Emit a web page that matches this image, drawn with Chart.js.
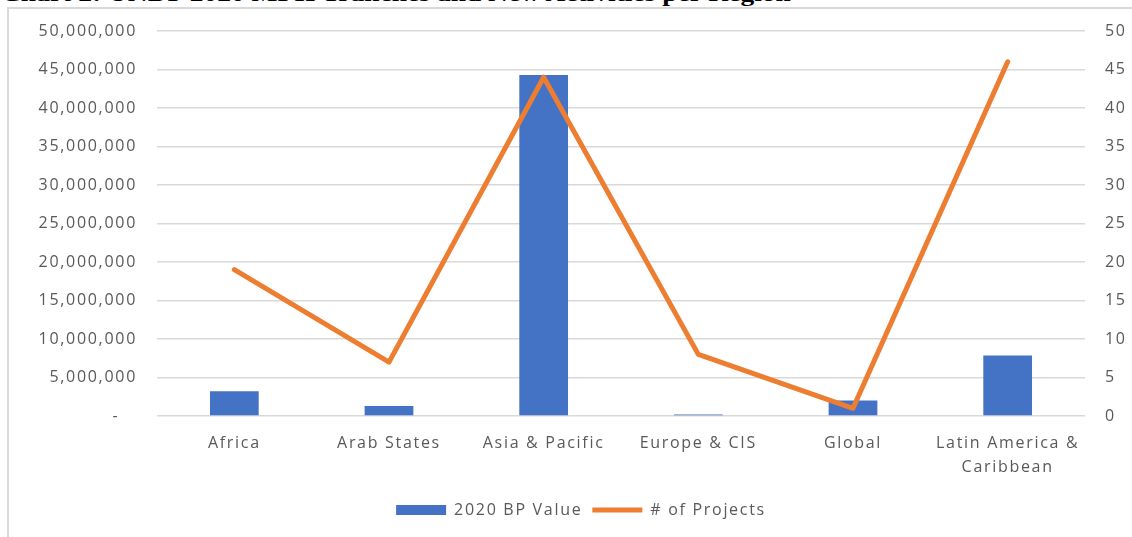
<!DOCTYPE html>
<html>
<head>
<meta charset="utf-8">
<script src="https://cdn.jsdelivr.net/npm/chart.js@4/dist/chart.umd.min.js"></script>
<style>
    body { margin: 0; background: #fff; overflow: hidden; }
    #wrap { position: relative; width: 1132px; height: 537px; overflow: hidden; }
    #title {
        position: absolute; left: 1px; top: -19px; white-space: nowrap;
        font: bold 22px "Liberation Serif", serif; color: #000;
        transform: scaleX(1.25); transform-origin: left top;
    }
    #frame {
        position: absolute; left: 7px; top: 7px; width: 2000px; height: 2000px;
        border: 2px solid #d9d9d9; box-sizing: border-box;
    }
    #chart { position: absolute; left: 0; top: 0; }
</style>
</head>
<body>
<div id="wrap">
    <div id="title">Chart 2: UNDP 2020 MPII Tranches and New Activities per Region</div>
    <div id="frame"></div>
    <canvas id="chart" width="1132" height="537"></canvas>
</div>
<script>
const regions = ['Africa', 'Arab States', 'Asia & Pacific', 'Europe & CIS', 'Global', ['Latin America &', 'Caribbean']];
const bpValues = [3200000, 1300000, 44300000, 200000, 2000000, 7850000];
const projectCounts = [19, 7, 44, 8, 1, 46];
const leftTicks = { min: 0, max: 50000000, step: 5000000 };
const rightTicks = { min: 0, max: 50, step: 5 };

const textColor = '#595959';
const gridColor = '#d9d9d9';
const baseFont = { family: '"Open Sans", sans-serif', size: 16 };

// the source text is set wide, so spread the letters a little
// (canvas resizing resets the context, so set it again before layout and draw)
const spacing = '1.7px';
const wideText = {
    id: 'wideText',
    beforeLayout(chart) { chart.ctx.letterSpacing = spacing; },
    beforeDraw(chart) { chart.ctx.letterSpacing = spacing; }
};

new Chart(document.getElementById('chart').getContext('2d'), {
    type: 'bar',
    plugins: [wideText],
    data: {
        labels: regions,
        datasets: [{
            label: '2020 BP Value',
            data: bpValues,
            backgroundColor: '#4472c4',
            borderWidth: 0,
            pointStyle: 'rect',
            yAxisID: 'y',
            order: 1,
            categoryPercentage: 1,
            barPercentage: 0.315
        }, {
            type: 'line',
            label: '# of Projects',
            data: projectCounts,
            borderColor: '#ed7d31',
            backgroundColor: '#ed7d31',
            borderWidth: 5,
            borderCapStyle: 'round',
            borderJoinStyle: 'round',
            pointRadius: 0,
            pointStyle: 'line',
            tension: 0,
            yAxisID: 'y1',
            order: 0
        }]
    },
    options: {
        responsive: false,
        animation: false,
        layout: { padding: { left: 30, right: 0, top: 31, bottom: 9 } },
        plugins: {
            tooltip: { enabled: false },
            legend: {
                position: 'bottom',
                labels: {
                    usePointStyle: true,
                    pointStyleWidth: 50,
                    boxHeight: 10,
                    padding: 10,
                    color: textColor,
                    font: baseFont,
                    sort: (a, b) => a.datasetIndex - b.datasetIndex
                }
            }
        },
        scales: {
            x: {
                grid: { display: false },
                border: { display: false },
                ticks: { color: textColor, font: { ...baseFont, lineHeight: 1.5 }, padding: 7, maxRotation: 0, autoSkip: false },
                afterFit: (scale) => { scale.height = 76; }
            },
            y: {
                position: 'left',
                min: leftTicks.min,
                max: leftTicks.max,
                grid: { color: gridColor, lineWidth: 1.5, drawTicks: false },
                border: { display: false },
                ticks: {
                    stepSize: leftTicks.step,
                    color: textColor,
                    font: baseFont,
                    padding: 20,
                    callback: (v) => v === 0 ? '-   ' : v.toLocaleString('en-US')
                },
                afterFit: (scale) => { scale.width = 127; }
            },
            y1: {
                position: 'right',
                min: rightTicks.min,
                max: rightTicks.max,
                grid: { display: false, drawTicks: false },
                border: { display: false },
                ticks: { stepSize: rightTicks.step, color: textColor, font: baseFont, padding: 20 },
                afterFit: (scale) => { scale.width = 47; }
            }
        }
    }
});
</script>
</body>
</html>
